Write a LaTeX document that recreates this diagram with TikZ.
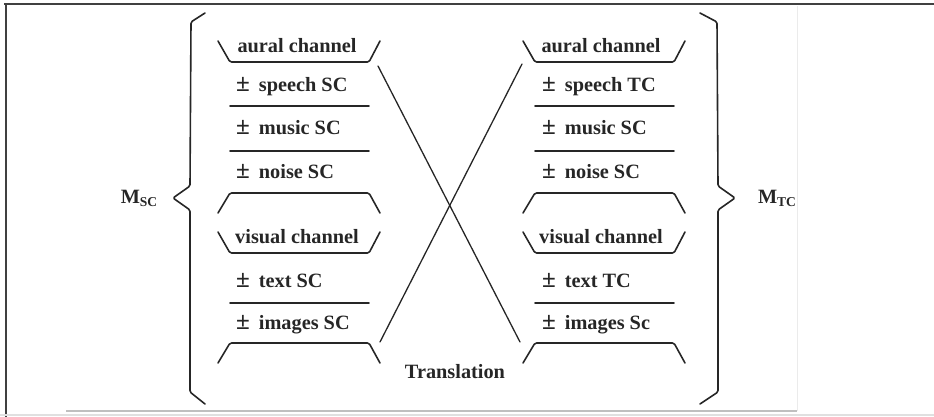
\documentclass[tikz,border=0pt]{standalone}
\usepackage{fontspec}
\setmainfont{Liberation Serif}
\newcommand\subtag[1]{\raisebox{-0.35ex}{\fontsize{13.5}{13.5}\selectfont #1}}
\newcommand\plusminus{{\fontsize{25}{22}\selectfont ±}\hspace{9pt}}
\begin{document}
\begin{tikzpicture}[x=1pt,y=-1pt,
  ink/.style={line width=1.6pt, draw=black!85, line cap=round, line join=round, rounded corners=1.5pt},
  lbl/.style={font=\fontsize{20.3}{22}\selectfont\bfseries, text=black!85, inner sep=0pt, anchor=base},
  item/.style={lbl, anchor=base west},
  pics/cup/.style={code={\draw[ink] (-12,-21) -- (0,0) -- (139,0) -- (150,-21);}},
  pics/cap/.style={code={\draw[ink] (-12,20) -- (0,0) -- (139,0) -- (150,20);}},
  pics/rule/.style={code={\draw[ink] (0,0) -- (139,0);}},
  ]
\useasboundingbox (0,0) rectangle (934,417);
% page frame
\draw[line width=2pt, black!75] (4,4) -- (934,4);
\draw[line width=2pt, black!75] (6,4) -- (6,417);
\draw[line width=1.2pt, black!12] (0,415) -- (934,415);
\draw[line width=1.5pt, black!25] (66,411) -- (797,411);
\draw[line width=0.6pt, black!8] (797,6) -- (797,411);

% source-culture channels
\pic at (230,62) {cup};
\pic at (230,106) {rule};
\pic at (230,151) {rule};
\pic at (230,193) {cap};
\pic at (230,253) {cup};
\pic at (230,303) {rule};
\pic at (230,343) {cap};
\node[lbl] (L-aural) at (297,53) {aural channel};
\node[item] (L-speech) at (236,92) {\plusminus speech SC};
\node[item] (L-music) at (236,135) {\plusminus music SC};
\node[item] (L-noise) at (236,178) {\plusminus noise SC};
\node[lbl] (L-visual) at (297,243) {visual channel};
\node[item] (L-text) at (236,287) {\plusminus text SC};
\node[item] (L-images) at (236,329) {\plusminus images SC};

% target-culture channels
\pic at (535,62) {cup};
\pic at (535,106) {rule};
\pic at (535,151) {rule};
\pic at (535,193) {cap};
\pic at (535,253) {cup};
\pic at (535,303) {rule};
\pic at (535,343) {cap};
\node[lbl] (R-aural) at (601,53) {aural channel};
\node[item] (R-speech) at (542,92) {\plusminus speech TC};
\node[item] (R-music) at (542,135) {\plusminus music SC};
\node[item] (R-noise) at (542,178) {\plusminus noise SC};
\node[lbl] (R-visual) at (601,243) {visual channel};
\node[item] (R-text) at (542,287) {\plusminus text TC};
\node[item] (R-images) at (542,329) {\plusminus images Sc};

% translation cross
\coordinate (L-top) at (378,66);
\coordinate (L-bot) at (380,342);
\coordinate (R-top) at (522,64);
\coordinate (R-bot) at (520,342);
\draw[ink, line width=1.3pt] (L-top) -- (R-bot);
\draw[ink, line width=1.3pt] (L-bot) -- (R-top);
\node[lbl] (trans) at (455,378) {Translation};

% braces
\draw[ink] (205,13) -- (191,22) -- (190,186) -- (173,198) -- (190,210) -- (190,392) -- (205,404);
\draw[ink] (700,13) -- (717,22) -- (718,186) -- (735,198) -- (718,210) -- (718,392) -- (700,404);
\node[lbl] (Msc) at (139,203) {M\subtag{SC}};
\node[lbl] (Mtc) at (777,203) {M\subtag{TC}};
\end{tikzpicture}
\end{document}
